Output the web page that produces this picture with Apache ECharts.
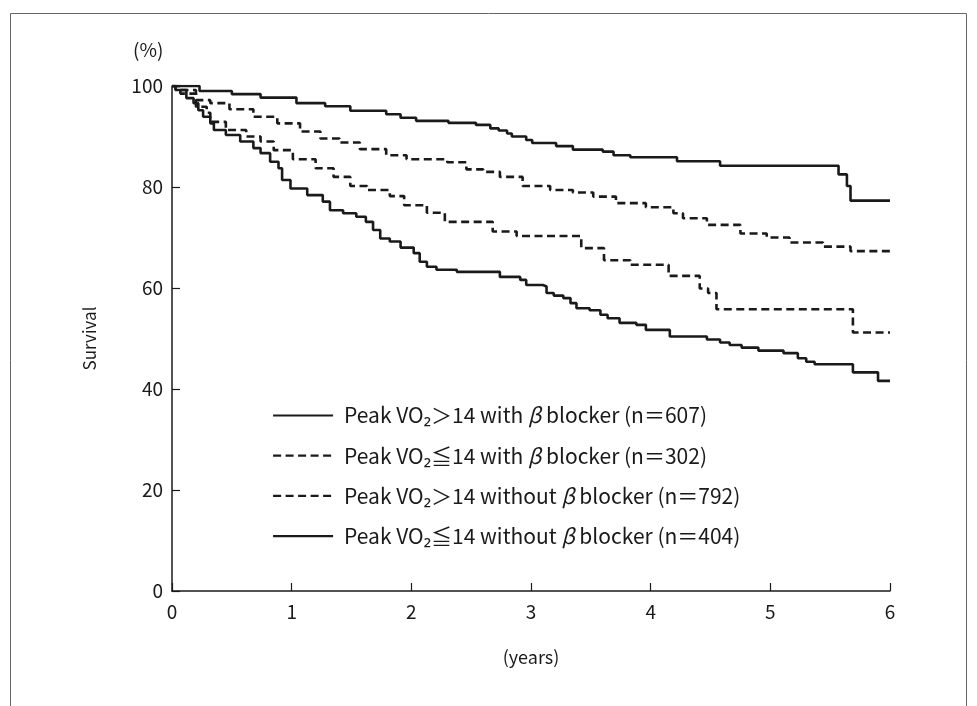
<!DOCTYPE html>
<html>
<head>
<meta charset="utf-8">
<script src="https://cdn.jsdelivr.net/npm/echarts@6/dist/echarts.min.js"></script>
<style>
  html, body { margin: 0; padding: 0; background: #fff; }
  #chart { width: 977px; height: 706px; }
</style>
</head>
<body>
<div id="chart"></div>
<script>
// survival curves: years / survival (%)
const seriesNames = [
  "Peak VO₂＞14 with β blocker (n＝607)",
  "Peak VO₂≦14 with β blocker (n＝302)",
  "Peak VO₂＞14 without β blocker (n＝792)",
  "Peak VO₂≦14 without β blocker (n＝404)"
]

const timesA = [0, 0.23, 0.5, 0.74, 1.04, 1.28, 1.49, 1.79, 1.91, 2.04, 2.31, 2.54, 2.66, 2.73, 2.80, 2.84, 2.96, 3.01, 3.21, 3.35, 3.60, 3.69, 3.83, 4.22, 4.58, 5.57, 5.64, 5.67, 6.0]
const survA = [100, 99.0, 98.4, 97.7, 96.6, 96.0, 95.1, 94.4, 93.7, 93.1, 92.7, 92.3, 91.6, 91.2, 90.6, 90.0, 89.3, 88.7, 88.1, 87.4, 87.0, 86.3, 85.9, 85.1, 84.2, 82.5, 80.2, 77.3, 77.3]

const timesB = [0, 0.03, 0.2, 0.29, 0.32, 0.45, 0.62, 0.74, 0.85, 1.01, 1.20, 1.35, 1.49, 1.63, 1.82, 1.94, 2.13, 2.28, 2.68, 2.88, 3.42, 3.61, 3.83, 4.15, 4.41, 4.48, 4.55, 5.69, 6.0]
const survB = [100, 99.2, 95.9, 94.7, 92.9, 91.3, 90.0, 89.0, 87.3, 85.5, 83.7, 82.0, 80.2, 79.4, 78.2, 76.4, 74.9, 73.1, 71.2, 70.3, 67.9, 65.5, 64.6, 62.4, 59.9, 59.0, 55.8, 51.2, 51.2]

const timesC = [0, 0.07, 0.2, 0.32, 0.48, 0.68, 0.88, 1.07, 1.24, 1.40, 1.57, 1.79, 1.96, 2.30, 2.46, 2.60, 2.74, 2.93, 3.16, 3.35, 3.52, 3.71, 3.96, 4.19, 4.27, 4.47, 4.75, 4.97, 5.16, 5.44, 5.67, 6.0]
const survC = [100, 98.5, 97.2, 96.6, 95.4, 93.9, 92.6, 91.0, 89.6, 88.8, 87.5, 86.3, 85.5, 84.9, 83.5, 83.0, 82.0, 80.2, 79.4, 78.9, 78.1, 76.8, 76.0, 74.8, 73.8, 72.5, 70.8, 70.0, 69.0, 68.2, 67.3, 67.3]

const timesD = [0, 0.03, 0.12, 0.18, 0.22, 0.26, 0.32, 0.35, 0.45, 0.57,
  0.68, 0.74, 0.82, 0.89, 0.92, 0.99, 1.13, 1.26, 1.32, 1.43,
  1.54, 1.62, 1.68, 1.74, 1.82, 1.91, 2.02, 2.07, 2.13, 2.21,
  2.38, 2.74, 2.91, 2.96, 3.10, 3.13, 3.19, 3.27, 3.33, 3.38,
  3.49, 3.58, 3.64, 3.74, 3.88, 3.96, 4.16, 4.47, 4.58, 4.66,
  4.76, 4.90, 5.11, 5.23, 5.30, 5.37, 5.69, 5.90, 6.0]
const survD = [100, 99.2, 97.6, 96.6, 95.2, 93.9, 92.6, 91.3, 90.3, 89.0,
  87.7, 86.7, 85.0, 83.7, 81.4, 79.7, 78.4, 77.1, 75.4, 74.8,
  74.1, 73.1, 71.5, 69.8, 69.2, 68.0, 66.9, 65.2, 64.2, 63.6,
  63.2, 62.2, 61.6, 60.6, 60.3, 59.0, 58.5, 58.0, 57.0, 56.0,
  55.6, 54.7, 54.0, 53.1, 52.7, 51.7, 50.4, 49.8, 49.2, 48.7,
  48.2, 47.6, 47.1, 46.1, 45.4, 44.9, 43.3, 41.6, 41.6]

const xTicks = [0, 1, 2, 3, 4, 5, 6]
const yTicks = [0, 20, 40, 60, 80, 100]

const font = "'Noto Sans CJK JP', 'Noto Sans', sans-serif"
const ink = "#1a1a1a"

const zip = (t, s) => t.map((x, i) => [x, s[i]])

// order of drawing = order in the legend
const curves = [
  { data: zip(timesA, survA), dash: "solid" },
  { data: zip(timesB, survB), dash: [8, 4.5] },
  { data: zip(timesC, survC), dash: [8, 4.5] },
  { data: zip(timesD, survD), dash: "solid" }
]

const chart = echarts.init(document.getElementById("chart"))

chart.setOption({
  backgroundColor: "#ffffff",
  animation: false,
  textStyle: { fontFamily: font, color: ink },
  grid: { left: 172, right: 87, top: 86, bottom: 115 },
  graphic: [
    {
      type: "rect",
      shape: { x: 10.5, y: 13.5, width: 956, height: 720 },
      style: { fill: "none", stroke: "#666", lineWidth: 1 },
      silent: true
    },
    {
      type: "text",
      left: 133,
      top: 40,
      style: { text: "(%)", font: "19px " + font, fill: ink }
    }
  ],
  legend: {
    orient: "vertical",
    left: 267,
    top: 400,
    itemWidth: 60,
    itemHeight: 24,
    itemGap: 19.2,
    selectedMode: false,
    itemStyle: { opacity: 0 },
    lineStyle: { width: 2.2 },
    textStyle: {
      fontFamily: font,
      fontSize: 21,
      color: ink,
      padding: [0, 0, 0, 6],
      rich: {
        b: { fontFamily: font, fontSize: 21, fontStyle: "italic", color: ink }
      }
    },
    formatter: name => name.replace("β", "{b|β}"),
    data: seriesNames
  },
  xAxis: {
    type: "value",
    min: 0,
    max: 6,
    interval: 1,
    name: "(years)",
    nameLocation: "middle",
    nameGap: 57,
    nameTextStyle: { fontSize: 18, color: ink, fontFamily: font },
    axisLine: { lineStyle: { color: ink, width: 1.5 } },
    axisTick: { inside: true, length: 8, lineStyle: { color: ink, width: 1.2 } },
    axisLabel: { fontSize: 19, color: ink, margin: 11, fontFamily: font,
      formatter: v => xTicks.includes(v) ? String(v) : "" },
    splitLine: { show: false }
  },
  yAxis: {
    type: "value",
    min: 0,
    max: 100,
    interval: 20,
    name: "Survival",
    nameLocation: "middle",
    nameRotate: 90,
    nameGap: 74,
    nameTextStyle: { fontSize: 17, color: ink, fontFamily: font },
    axisLine: { show: true, lineStyle: { color: ink, width: 1.5 } },
    axisTick: { show: true, inside: true, length: 8, lineStyle: { color: ink, width: 1.2 } },
    axisLabel: { fontSize: 19, color: ink, margin: 9, fontFamily: font,
      formatter: v => yTicks.includes(v) ? String(v) : "" },
    splitLine: { show: false }
  },
  series: curves.map((c, i) => ({
    name: seriesNames[i],
    type: "line",
    step: "end",
    symbol: "none",
    data: c.data,
    lineStyle: { color: ink, width: 2.6, type: c.dash },
    itemStyle: { color: ink },
    z: 3
  }))
})
</script>
</body>
</html>
